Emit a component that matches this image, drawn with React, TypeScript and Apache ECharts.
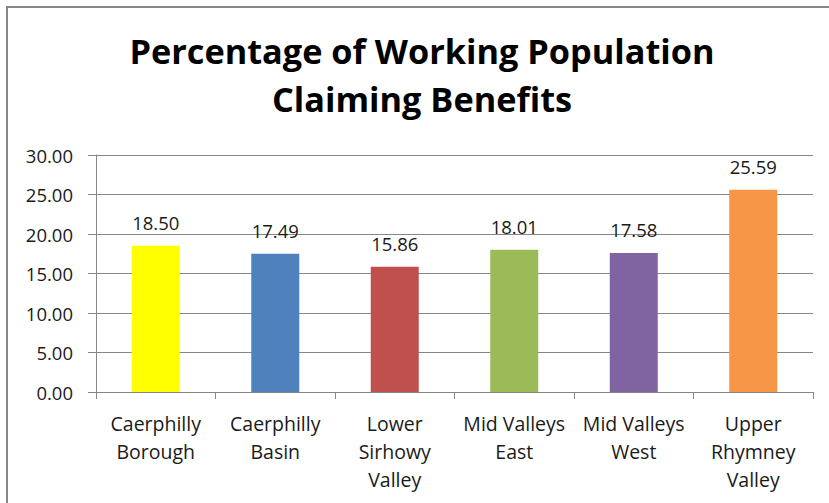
import React, { useEffect, useRef } from "react";
import * as echarts from "echarts";

const categories = [
  "Caerphilly\nBorough",
  "Caerphilly\nBasin",
  "Lower\nSirhowy\nValley",
  "Mid Valleys\nEast",
  "Mid Valleys\nWest",
  "Upper\nRhymney\nValley",
];
const values = [18.5, 17.49, 15.86, 18.01, 17.58, 25.59];
const barColors = ["#FFFF00", "#4F81BD", "#C0504D", "#9BBB59", "#8064A2", "#F79646"];
const titleText = "Percentage of Working Population\nClaiming Benefits";

export default function App() {
  const ref = useRef<HTMLDivElement>(null);
  useEffect(() => {
    if (!ref.current) return;
    const chart = echarts.init(ref.current, null, { renderer: "svg" });
    const font = "'Open Sans', sans-serif";
    chart.setOption({
      animation: false,
      backgroundColor: "#ffffff",
      title: {
        text: titleText,
        left: 417,
        top: 21,
        textAlign: "center",
        textStyle: {
          fontFamily: font,
          fontWeight: "bold",
          fontSize: 34.3,
          lineHeight: 48,
          color: "#000000",
        },
      },
      graphic: [
        {
          type: "rect",
          shape: { x: 7, y: 7, width: 840, height: 520 },
          style: { fill: "none", stroke: "#878787", lineWidth: 2 },
          silent: true,
        },
      ],
      grid: { left: 96, right: 16, top: 155, bottom: 111, containLabel: false },
      xAxis: {
        type: "category",
        data: categories,
        axisLine: { show: true, lineStyle: { color: "#878787", width: 1 } },
        axisTick: { show: true, length: 7, alignWithLabel: false, lineStyle: { color: "#878787" } },
        axisLabel: {
          fontFamily: font,
          fontSize: 19.5,
          lineHeight: 28,
          color: "#1a1a1a",
          margin: 17,
          interval: 0,
        },
      },
      yAxis: {
        type: "value",
        min: 0,
        max: 30,
        interval: 5,
        axisLine: { show: true, lineStyle: { color: "#878787", width: 1 } },
        axisTick: { show: true, length: 8, lineStyle: { color: "#878787" } },
        splitLine: { show: true, lineStyle: { color: "#878787", width: 1 } },
        axisLabel: {
          fontFamily: font,
          fontSize: 18.5,
          color: "#1a1a1a",
          margin: 23,
          formatter: (v: number) => v.toFixed(2),
        },
      },
      series: [
        {
          type: "bar",
          barWidth: 48,
          data: values.map((v, i) => ({ value: v, itemStyle: { color: barColors[i] } })),
          label: {
            show: true,
            position: "top",
            distance: 14,
            fontFamily: font,
            fontSize: 18.5,
            color: "#1a1a1a",
            formatter: (p: any) => Number(p.value).toFixed(2),
          },
        },
      ],
    });
    return () => chart.dispose();
  }, []);
  return (
    <div
      ref={ref}
      style={{ position: "fixed", left: 0, top: 0, width: 829, height: 503 }}
    />
  );
}
